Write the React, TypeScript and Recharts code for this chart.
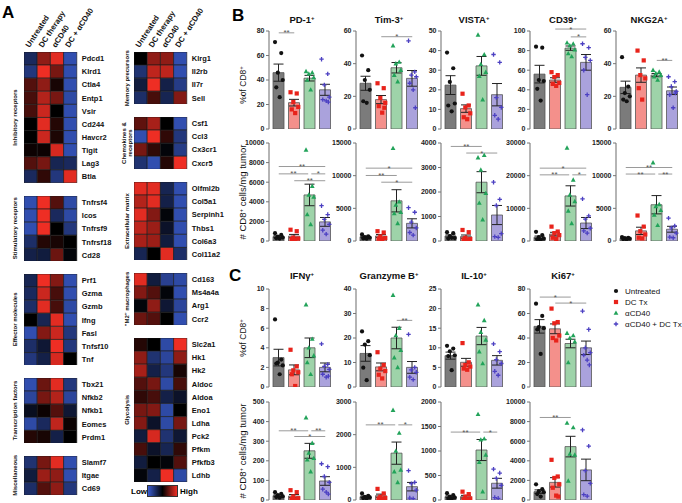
import React from 'react'
import { BarChart, Bar, Cell, XAxis, YAxis, ComposedChart, Scatter, ErrorBar, ReferenceLine } from 'recharts'

const FONT = '"Liberation Sans", Arial, Helvetica, sans-serif'

// ---------- heatmap (z-score, -1 low .. 1 high), columns: Untreated, DC therapy, αCD40, DC + αCD40
const HEAT_COLS = ['Untreated', 'DC therapy', 'αCD40', 'DC + αCD40']

const inhibGenes = ['Pdcd1', 'Klrd1', 'Ctla4', 'Entp1', 'Vsir', 'Cd244', 'Havcr2', 'Tigit', 'Lag3', 'Btla']
const inhibZ = [
  [-0.45, 0.6, 0.95, -0.85],
  [-0.6, 1, 0.5, -0.85],
  [0.35, 0.6, 0.1, -0.85],
  [0.3, 0.75, 0.5, -0.8],
  [0.3, 0.85, 0, -0.85],
  [0, 0.95, 0.15, -0.85],
  [0, 0.85, 0.12, -0.85],
  [0.05, 0.05, 0.9, -0.85],
  [0.35, 0.5, -0.4, -0.45],
  [-0.45, 0.2, -0.6, 0.95],
]
const stimGenes = ['Tnfrsf4', 'Icos', 'Tnfrsf9', 'Tnfrsf18', 'Cd28']
const stimZ = [
  [-0.85, 1, 0.35, -0.8],
  [-0.85, 1, -0.45, -0.8],
  [-0.85, 1, 0, -0.6],
  [-0.5, 0.15, 0.1, 0],
  [-0.35, -0.3, 0.45, -0.05],
]
const effGenes = ['Prf1', 'Gzma', 'Gzmb', 'Ifng', 'Fasl', 'Tnfsf10', 'Tnf']
const effZ = [
  [-0.4, 1, 0.55, -0.85],
  [-0.45, 0.85, 0.3, -0.85],
  [-0.5, 0.95, 0.3, -0.8],
  [0, -0.4, 0.95, -0.85],
  [-0.85, 0.55, 0.85, -0.6],
  [-0.5, -0.25, 1, -0.6],
  [-0.6, -0.35, 0.9, 0],
]
const tfGenes = ['Tbx21', 'Nfkb2', 'Nfkb1', 'Eomes', 'Prdm1']
const tfZ = [
  [-0.85, 0.45, 0.95, -0.6],
  [-0.75, 0.5, 0.75, -0.75],
  [-0.15, 0.05, 0.35, -0.25],
  [-0.8, -0.45, 0.8, 0.05],
  [0.15, 0.1, -0.35, 0],
]
const miscGenes = ['Slamf7', 'Itgae', 'Cd69']
const miscZ = [
  [-0.55, 0.5, 0.95, -0.85],
  [-0.3, 0.65, 0.6, -0.85],
  [-0.5, 0.35, 0.6, -0.6],
]
const memGenes = ['Klrg1', 'Il2rb', 'Il7r', 'Sell']
const memZ = [
  [0, 0.6, 0.6, -0.85],
  [-0.55, 0.8, 0.8, -0.85],
  [-0.3, 1, -0.35, -0.65],
  [-0.5, 0.3, -0.4, 0.55],
]
const chemGenes = ['Csf1', 'Ccl3', 'Cx3cr1', 'Cxcr5']
const chemZ = [
  [0.4, 0.7, 0, -0.85],
  [-0.85, 1, 0.2, -0.6],
  [0.5, 0.2, -0.05, -0.65],
  [-0.55, -0.85, 0.15, 1],
]
const ecmGenes = ['Olfml2b', 'Col5a1', 'Serpinh1', 'Thbs1', 'Col6a3', 'Col11a2']
const ecmZ = [
  [0.95, 0.95, -0.4, -0.85],
  [0.75, 0.95, -0.35, -0.85],
  [0.95, 0.55, -0.05, -0.85],
  [0.8, 0.65, -0.2, -0.85],
  [0.7, 0.65, -0.3, -0.85],
  [-0.4, 0, 0.95, -0.5],
]
const m2Genes = ['Cd163', 'Ms4a4a', 'Arg1', 'Ccr2']
const m2Z = [
  [0.95, -0.3, -0.7, -0.8],
  [0.55, 0.35, -0.05, -0.85],
  [-0.05, 0.6, -0.25, -0.75],
  [0.45, 0.35, 0, -0.85],
]
const glyGenes = ['Slc2a1', 'Hk1', 'Hk2', 'Aldoc', 'Aldoa', 'Eno1', 'Ldha', 'Pck2', 'Pfkm', 'Pfkfb3', 'Ldhb']
const glyZ = [
  [0.15, 0, -0.8, 1],
  [0.6, -0.55, -0.75, 0.6],
  [0.7, -0.35, -0.6, 0.1],
  [0.35, 0.5, -0.8, 0.3],
  [0.2, 0.3, -0.35, -0.2],
  [0.5, 0.55, -0.8, 0],
  [0.55, -0.2, -0.8, 0.5],
  [-0.3, 0.9, -0.55, -0.25],
  [0.3, -0.2, -0.4, 0.2],
  [-0.3, 0, -0.05, 0.35],
  [-0.05, -0.35, 1, -0.8],
]

// ---------- bar charts, groups: Untreated, DC Tx, αCD40, αCD40 + DC Tx
// sig: [from group, to group, height, stars]
const pd1Pct = {
  max: 80, ticks: [0, 20, 40, 60, 80],
  mean: [46, 21.5, 41.5, 32], sem: [7, 2.7, 2.3, 4.5],
  pts: [[71, 62, 46, 40, 34, 26], [30, 29, 22, 18, 16, 13], [47, 46, 45, 42, 40, 32], [57, 45, 36, 26, 24, 23, 22]],
  sig: [[0, 1, 78.5, '**']],
}
const tim3Pct = {
  max: 60, ticks: [0, 20, 40, 60],
  mean: [28, 18, 37.5, 31], sem: [4.3, 2.5, 3.2, 4.8],
  pts: [[45, 36, 30, 24, 17, 16], [28, 25, 19, 16, 14, 10, 13], [51, 41, 40, 36, 33, 29], [54, 35, 33, 32, 28, 24, 13]],
  sig: [[1, 3, 56.5, '*']],
}
const vistaPct = {
  max: 50, ticks: [0, 10, 20, 30, 40, 50],
  mean: [22.4, 10.4, 32.2, 17.5], sem: [4.8, 1.9, 4.8, 5.7],
  pts: [[39, 31, 24, 13, 12, 9], [18, 12, 11, 8, 6, 5], [48, 38, 33, 29, 27, 15], [38, 34, 16, 11, 7, 5]],
  sig: [],
}
const cd39Pct = {
  max: 100, ticks: [0, 20, 40, 60, 80, 100],
  mean: [56, 50, 82.5, 68], sem: [9, 2.3, 2.2, 8],
  pts: [[84, 83, 50, 49, 41, 29], [58, 55, 53, 47, 46, 44], [88, 87, 85, 81, 77, 74], [87, 83, 73, 70, 60, 35]],
  sig: [[1, 3, 102, '*'], [2, 3, 94, '*']],
}
const nkg2aPct = {
  max: 60, ticks: [0, 20, 40, 60],
  mean: [25.5, 33, 33, 23.4], sem: [3.8, 4.4, 1, 2.3],
  pts: [[44, 26, 22, 20, 18, 17], [48, 42, 33, 31, 25, 18], [36, 35, 34, 33, 32, 30], [32, 29, 26, 23, 21, 13, 22]],
  sig: [[2, 3, 42, '**']],
}
const pd1Num = {
  max: 10000, ticks: [0, 2000, 4000, 6000, 8000, 10000],
  mean: [450, 500, 4700, 1950], sem: [90, 170, 1100, 450],
  pts: [[800, 620, 450, 350, 280, 250], [1150, 1000, 350, 250, 200, 150], [9300, 5600, 4700, 4500, 2700, 1700], [3600, 2700, 2200, 1700, 1100, 700]],
  sig: [[0, 3, 7600, '**'], [0, 1.9, 6850, '**'], [2.1, 3, 6850, '*'], [1, 3, 6150, '**']],
}
const tim3Num = {
  max: 15000, ticks: [0, 5000, 10000, 15000],
  mean: [650, 770, 6150, 2700], sem: [100, 220, 1700, 700],
  pts: [[1000, 700, 600, 500, 400, 350], [1500, 1300, 700, 450, 350, 300], [14200, 6000, 5500, 4400, 4200, 2700], [5100, 4400, 2900, 2000, 1300, 900]],
  sig: [[0, 3, 11150, '*'], [0, 2, 10030, '**'], [1, 3, 9000, '*']],
}
const vistaNum = {
  max: 4000, ticks: [0, 1000, 2000, 3000, 4000],
  mean: [205, 180, 2400, 1060], sem: [45, 65, 430, 390],
  pts: [[360, 320, 200, 120, 100, 130], [450, 360, 130, 80, 60, 50], [3400, 3500, 2900, 1950, 1550, 870], [2400, 1700, 1450, 300, 180, 150]],
  sig: [[0, 2, 3860, '**'], [1, 3, 3590, '*']],
}
const cd39Num = {
  max: 30000, ticks: [0, 10000, 20000, 30000],
  mean: [1150, 2100, 13800, 5500], sem: [370, 560, 3100, 1700],
  pts: [[2800, 1800, 1200, 700, 500, 400], [4400, 2900, 2400, 1800, 1000, 600], [28500, 18700, 14100, 12100, 9200, 5400], [12900, 7700, 6700, 3900, 3100, 2400]],
  sig: [[0, 3, 22300, '*'], [0, 1.9, 20250, '**'], [2.1, 3, 20250, '*']],
}
const nkg2aNum = {
  max: 15000, ticks: [0, 5000, 10000, 15000],
  mean: [410, 1550, 5550, 1800], sem: [55, 560, 1400, 450],
  pts: [[600, 500, 450, 350, 300, 250], [3900, 2200, 1500, 1000, 500, 400], [12000, 5600, 5300, 4700, 4000, 2400], [3500, 2300, 2000, 1200, 600, 500]],
  sig: [[0, 3, 11250, '**'], [0, 1.9, 10250, '**'], [2.1, 3, 10250, '**']],
}
const ifngPct = {
  max: 10, ticks: [0, 2, 4, 6, 8, 10],
  mean: [3, 1.75, 4, 2], sem: [0.85, 0.5, 1, 0.45],
  pts: [[6.9, 2.8, 2.5, 2.2, 2.4, 1.3], [3.8, 2.1, 1.7, 1.5, 1.3, 0.1], [8.4, 4.9, 4, 3.2, 2.5, 1.3], [4.4, 2.3, 2.1, 1.8, 1.3, 1, 1.1]],
  sig: [],
}
const gzmbPct = {
  max: 40, ticks: [0, 10, 20, 30, 40],
  mean: [13.7, 8.2, 20, 8], sem: [3.2, 1.6, 4.4, 2.4],
  pts: [[22.7, 18.7, 17.3, 13, 7.9, 2.8], [14.2, 9, 7.5, 6.5, 5, 3.5], [37.5, 24, 21, 15, 12, 8], [21.5, 8, 7, 6, 4, 3]],
  sig: [[2, 3, 27.2, '**']],
}
const il10Pct = {
  max: 25, ticks: [0, 5, 10, 15, 20, 25],
  mean: [8, 6.3, 13, 6.8], sem: [0.9, 1, 2.2, 1.2],
  pts: [[10.5, 9.8, 9.1, 8.1, 7.9, 4.3], [11.2, 6.3, 5.6, 5.2, 4.7, 4.4], [21, 17, 14, 12, 9, 6], [11, 9, 7, 6, 4, 3]],
  sig: [],
}
const ki67Pct = {
  max: 80, ticks: [0, 20, 40, 60, 80],
  mean: [49.5, 47.5, 35.5, 32], sem: [5.5, 4, 3.5, 5.5],
  pts: [[68, 58, 49, 48, 47, 27], [64, 53, 52, 42, 40, 38], [44, 42, 40, 37, 20], [62, 47, 32, 28, 26, 22, 18]],
  sig: [[0, 2, 73.4, '*'], [1, 3, 68.5, '*']],
}
const ifngNum = {
  max: 500, ticks: [0, 100, 200, 300, 400, 500],
  mean: [22, 20, 251, 97], sem: [4.4, 8, 38, 22],
  pts: [[40, 32, 25, 18, 15, 12], [50, 40, 18, 9, 6, 3], [420, 290, 240, 213, 205, 145], [185, 170, 120, 90, 55, 40, 30]],
  sig: [[0, 1.9, 353, '**'], [2.1, 3, 353, '**'], [1, 3, 324, '*']],
}
const gzmbNum = {
  max: 3000, ticks: [0, 1000, 2000, 3000],
  mean: [101, 132, 1434, 408], sem: [23, 48, 340, 130],
  pts: [[200, 130, 100, 80, 60, 50], [340, 200, 100, 60, 40, 30], [2750, 2050, 1500, 920, 870, 540], [900, 540, 500, 300, 60, 40]],
  sig: [[0, 1.9, 2300, '**'], [2.1, 3, 2300, '*']],
}
const il10Num = {
  max: 2000, ticks: [0, 500, 1000, 1500, 2000],
  mean: [68, 68, 1020, 342], sem: [18, 27, 215, 100],
  pts: [[140, 100, 70, 50, 30, 20], [170, 120, 70, 30, 15, 5], [1750, 1250, 1230, 920, 770, 170], [630, 550, 440, 300, 50, 35]],
  sig: [[0, 1.9, 1386, '**'], [2.1, 3, 1386, '*']],
}
const ki67Num = {
  max: 10000, ticks: [0, 2000, 4000, 6000, 8000, 10000],
  mean: [850, 1800, 5450, 3070], sem: [180, 480, 1050, 1100],
  pts: [[1600, 1100, 900, 800, 600, 350], [4100, 2400, 2250, 1600, 1250, 450, 350], [7850, 7400, 4700, 4600, 1950], [7150, 5500, 3000, 1700, 550, 400]],
  sig: [[0, 2, 8420, '**']],
}

const GROUPS = ['Untreated', 'DC Tx', 'αCD40', 'αCD40 + DC Tx']
const B_TITLES = ['PD-1', 'Tim-3', 'VISTA', 'CD39', 'NKG2A']
const C_TITLES = ['IFNγ', 'Granzyme B', 'IL-10', 'Ki67']

// ---------- styling / layout
const BAR_FILL = ['#7b7b7b', '#f4908b', '#9ed3a9', '#aaa2dc']
const DOT = ['#111111', '#e8231b', '#22a35a', '#4c40c2']
const JIT = [-0.24, 0.16, -0.06, 0.26, -0.16, 0.06, 0.2]
const COL_X = [269, 356, 441, 530, 616]
const PLOT_W = 64
const PLOT_H = 98
const PAD_L = 2
const YW = 30
const MT = 6
const XH = 3
const AXIS = { stroke: '#9c9c9c', strokeWidth: 1.5 }

function heatColor(v: number) {
  const t = Math.min(1, Math.abs(v))
  const c = v >= 0 ? [238, 46, 36] : [58, 92, 206]
  return `rgb(${Math.round(c[0] * t)},${Math.round(c[1] * t)},${Math.round(c[2] * t)})`
}

function marker(gi: number) {
  return (p: any) => {
    const { cx, cy } = p
    if (gi === 0) return <circle cx={cx} cy={cy} r={2.1} fill={DOT[0]} />
    if (gi === 1) return <rect x={cx - 2.1} y={cy - 2.1} width={4.2} height={4.2} fill={DOT[1]} />
    if (gi === 2) return <polygon points={`${cx},${cy - 2.6} ${cx + 2.4},${cy + 1.8} ${cx - 2.4},${cy + 1.8}`} fill={DOT[2]} />
    return <path d={`M${cx - 2.2},${cy}H${cx + 2.2}M${cx},${cy - 2.2}V${cy + 2.2}`} stroke={DOT[3]} strokeWidth={1.3} />
  }
}

function HeatBlock({ genes, z, left, top }: { genes: string[]; z: number[][]; left: number; top: number }) {
  const cell = 13.2
  const rowH = 13.1
  const rows = genes.map((g) => ({ gene: g, c0: 1, c1: 1, c2: 1, c3: 1 }))
  return (
    <div style={{ position: 'absolute', left, top }}>
      <BarChart width={cell * 4 + 50} height={rowH * genes.length} data={rows} layout="vertical"
        margin={{ top: 0, right: 0, bottom: 0, left: 0 }} barCategoryGap={0}>
        <XAxis type="number" hide domain={[0, 4]} />
        <YAxis type="category" dataKey="gene" orientation="right" width={50} axisLine={false} tickLine={false}
          tickSize={0} tickMargin={5} interval={0}
          tick={{ fontSize: 7.5, fontWeight: 700, fill: '#111', fontFamily: FONT }} />
        {[0, 1, 2, 3].map((c) => (
          <Bar key={c} dataKey={`c${c}`} stackId="h" isAnimationActive={false} stroke="#151515" strokeWidth={0.6}>
            {z.map((r, i) => <Cell key={i} fill={heatColor(r[c])} />)}
          </Bar>
        ))}
      </BarChart>
    </div>
  )
}

type Spec = { max: number; ticks: number[]; mean: number[]; sem: number[]; pts: number[][]; sig: any[] }

function MiniChart({ spec, left, top }: { spec: Spec; left: number; top: number }) {
  const rows = spec.mean.map((m, i) => ({ g: GROUPS[i], mean: m, sem: spec.sem[i] }))
  return (
    <div style={{ position: 'absolute', left: left - YW, top: top - MT }}>
      <ComposedChart width={YW + PLOT_W} height={MT + PLOT_H + XH} data={rows} margin={{ top: MT, right: 0, bottom: 0, left: 0 }}
        barCategoryGap={0}>
        <XAxis xAxisId="cat" type="category" dataKey="g" hide padding={{ left: PAD_L, right: 0 }} />
        <XAxis xAxisId="num" type="number" dataKey="x" domain={[-0.5, 3.5]} padding={{ left: PAD_L, right: 0 }} height={XH}
          tick={false} tickLine={false} axisLine={AXIS} allowDataOverflow />
        <YAxis type="number" domain={[0, spec.max]} ticks={spec.ticks} width={YW} interval={0} tickSize={3} tickMargin={1.5}
          tickLine={{ stroke: '#777' }} axisLine={AXIS} allowDataOverflow
          tick={{ fontSize: 7, fontWeight: 700, fill: '#222', fontFamily: FONT }} />
        <Bar xAxisId="cat" dataKey="mean" barSize={11} stroke="#555" strokeWidth={0.8} isAnimationActive={false}>
          {rows.map((r, i) => <Cell key={i} fill={BAR_FILL[i]} />)}
          <ErrorBar dataKey="sem" width={5} stroke="#222" strokeWidth={1} />
        </Bar>
        {spec.pts.map((g, gi) => (
          <Scatter key={gi} xAxisId="num" data={g.map((v, k) => ({ x: gi + JIT[k % JIT.length], y: v }))} dataKey="y"
            shape={marker(gi)} isAnimationActive={false} />
        ))}
        {spec.sig.map((s, i) => (
          <ReferenceLine key={i} xAxisId="num" segment={[{ x: s[0], y: s[2] }, { x: s[1], y: s[2] }]} stroke="#9a9a9a" strokeWidth={1}
            ifOverflow="visible"
            label={{ value: s[3], position: 'top', offset: -2.5, fontSize: 8, fill: '#555', fontFamily: FONT }} />
        ))}
      </ComposedChart>
    </div>
  )
}

const HEAT_LEFT = [
  { label: ['Inhibitory receptors'], genes: inhibGenes, z: inhibZ, top: 52 },
  { label: ['Stimulatory receptors'], genes: stimGenes, z: stimZ, top: 195.5 },
  { label: ['Effector molecules'], genes: effGenes, z: effZ, top: 273.5 },
  { label: ['Transcription factors'], genes: tfGenes, z: tfZ, top: 377.7 },
  { label: ['Miscellaneous'], genes: miscGenes, z: miscZ, top: 455.7 },
]
const HEAT_RIGHT = [
  { label: ['Memory precursors'], genes: memGenes, z: memZ, top: 52 },
  { label: ['Chemokines &', 'receptors'], genes: chemGenes, z: chemZ, top: 116.9 },
  { label: ['Extracellular matrix'], genes: ecmGenes, z: ecmZ, top: 181.8 },
  { label: ['"M2" macrophages'], genes: m2Genes, z: m2Z, top: 272.9 },
  { label: ['Glycolysis'], genes: glyGenes, z: glyZ, top: 337.8 },
]

function Title({ x, y, text }: { x: number; y: number; text: string }) {
  return (
    <text x={x} y={y} textAnchor="middle" fontSize={9.5} fontWeight={700} fill="#111">
      {text}<tspan dy={-3.5} fontSize={6}>+</tspan>
    </text>
  )
}

export default function App() {
  const bCharts = [pd1Pct, tim3Pct, vistaPct, cd39Pct, nkg2aPct]
  const bNum = [pd1Num, tim3Num, vistaNum, cd39Num, nkg2aNum]
  const cCharts = [ifngPct, gzmbPct, il10Pct, ki67Pct]
  const cNum = [ifngNum, gzmbNum, il10Num, ki67Num]
  const mid = PAD_L + (PLOT_W - PAD_L) / 2
  return (
    <div style={{ position: 'absolute', left: 0, top: 0, width: 682, height: 503, background: '#fff', overflow: 'hidden', fontFamily: FONT }}>
      {HEAT_LEFT.map((b, i) => <HeatBlock key={'l' + i} genes={b.genes} z={b.z} left={24} top={b.top} />)}
      {HEAT_RIGHT.map((b, i) => <HeatBlock key={'r' + i} genes={b.genes} z={b.z} left={134} top={b.top} />)}
      {bCharts.map((s, i) => <MiniChart key={'bt' + i} spec={s} left={COL_X[i]} top={31} />)}
      {bNum.map((s, i) => <MiniChart key={'bb' + i} spec={s} left={COL_X[i]} top={143} />)}
      {cCharts.map((s, i) => <MiniChart key={'ct' + i} spec={s} left={COL_X[i]} top={289} />)}
      {cNum.map((s, i) => <MiniChart key={'cb' + i} spec={s} left={COL_X[i]} top={402} />)}
      <div style={{ position: 'absolute', left: 147, top: 485, width: 31, height: 12, border: '1px solid #333', boxSizing: 'border-box',
        background: 'linear-gradient(to right, rgb(58,92,206), #000 50%, rgb(238,46,36))' }} />
      <svg width={682} height={503} style={{ position: 'absolute', left: 0, top: 0, pointerEvents: 'none' }} fontFamily={FONT}>
        <text x={2} y={18} fontSize={17} fontWeight={700}>A</text>
        <text x={232} y={21} fontSize={17} fontWeight={700}>B</text>
        <text x={229} y={281} fontSize={17} fontWeight={700}>C</text>
        {[24, 134].map((x0) => HEAT_COLS.map((c, i) => (
          <text key={x0 + c} transform={`translate(${x0 + 13.2 * (i + 0.5) - 1},48) rotate(-57)`} fontSize={7.8} fontWeight={700} fill="#111">{c}</text>
        )))}
        {HEAT_LEFT.map((b) => (
          <text key={b.label[0]} transform={`translate(17,${b.top + (b.genes.length * 13.1) / 2}) rotate(-90)`} textAnchor="middle"
            fontSize={6} fontWeight={600} fill="#111">{b.label[0]}</text>
        ))}
        {HEAT_RIGHT.map((b) => b.label.map((l, k) => (
          <text key={l} transform={`translate(${b.label.length > 1 ? 126 + k * 6 : 129},${b.top + (b.genes.length * 13.1) / 2}) rotate(-90)`}
            textAnchor="middle" fontSize={6} fontWeight={600} fill="#111">{l}</text>
        )))}
        <text x={131} y={494} fontSize={8} fontWeight={700}>Low</text>
        <text x={180} y={494} fontSize={8} fontWeight={700}>High</text>
        {B_TITLES.map((t, i) => <Title key={t} x={COL_X[i] + mid} y={23} text={t} />)}
        {C_TITLES.map((t, i) => <Title key={t} x={COL_X[i] + mid} y={279} text={t} />)}
        {[[85, '%of CD8'], [192, '# CD8'], [338, '%of CD8'], [451, '# CD8']].map(([y, t], i) => (
          <text key={i} transform={`translate(246,${y}) rotate(-90)`} textAnchor="middle" fontSize={i % 2 ? 9.5 : 8.5} fill="#111">
            {t}<tspan dy={-3} fontSize={6}>+</tspan><tspan dy={3}>{i % 2 ? ' cells/mg tumor' : ''}</tspan>
          </text>
        ))}
        {GROUPS.map((g, i) => {
          const y = 291 + i * 11
          return (
            <g key={g}>
              {marker(i)({ cx: 616, cy: y })}
              <text x={625} y={y + 3} fontSize={8} fill="#111">{g}</text>
            </g>
          )
        })}
      </svg>
    </div>
  )
}
